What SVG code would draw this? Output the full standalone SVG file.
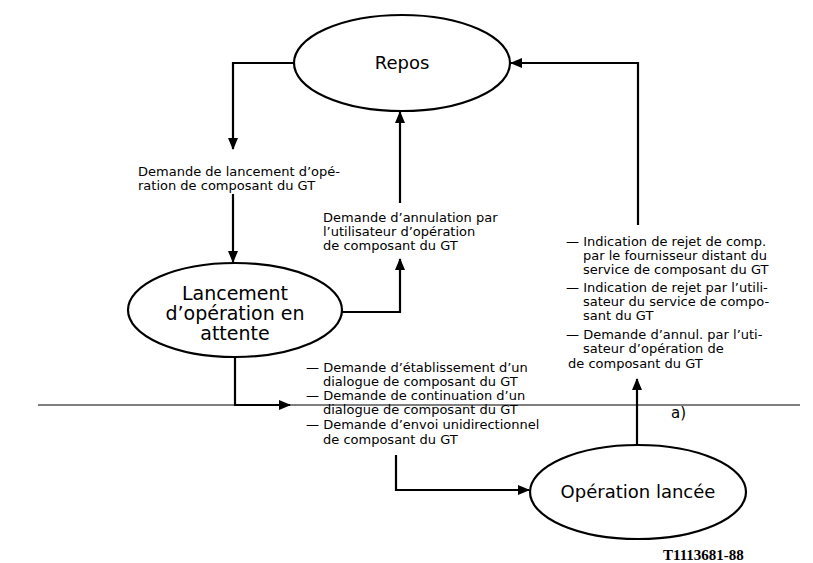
<svg xmlns="http://www.w3.org/2000/svg" width="813" height="563" viewBox="0 0 813 563">
<style>
.node{fill:#fff;stroke:#000;stroke-width:2.2}
.big{font-family:"DejaVu Sans",sans-serif;font-size:18px;fill:#000;text-anchor:middle}
.lbl{font-family:"DejaVu Sans",sans-serif;font-size:13px;fill:#000}
.con{fill:none;stroke:#000;stroke-width:2.2}
.thin{fill:none;stroke:#000;stroke-width:1.2}
.ref{font-family:"Liberation Serif",serif;font-weight:bold;font-size:15px;fill:#000}
</style>
<defs>
<marker id="ah" markerWidth="12" markerHeight="10" refX="11" refY="5" orient="auto" markerUnits="userSpaceOnUse">
<path d="M0,0 L12,5 L0,10 Z" fill="#000"/>
</marker>
</defs>
<rect width="813" height="563" fill="#fff"/>
<line class="thin" x1="38" y1="405" x2="800" y2="405"/>
<g id="connectors">
<path class="con" d="M293,63 H233 V149" marker-end="url(#ah)"/>
<path class="con" d="M233,194 V262" marker-end="url(#ah)"/>
<path class="con" d="M342,312 H400 V259" marker-end="url(#ah)"/>
<path class="con" d="M400,203 V112" marker-end="url(#ah)"/>
<path class="con" d="M235,357 V405 H290" marker-end="url(#ah)"/>
<path class="con" d="M396,455 V490 H529" marker-end="url(#ah)"/>
<path class="con" d="M637,445 V379" marker-end="url(#ah)"/>
<path class="con" d="M638,225 V63 H511" marker-end="url(#ah)"/>
</g>
<g id="repos">
<ellipse class="node" cx="402" cy="63" rx="108" ry="48"/>
<text class="big" x="402" y="69">Repos</text>
</g>
<g id="lancement">
<ellipse class="node" cx="235" cy="310" rx="107" ry="47"/>
<text class="big" style="font-size:19px" x="235" y="300">Lancement</text>
<text class="big" style="font-size:19px" x="235" y="320">d’opération en</text>
<text class="big" style="font-size:19px" x="235" y="340">attente</text>
</g>
<g id="operation">
<ellipse class="node" cx="638" cy="492" rx="108" ry="47"/>
<text class="big" x="638" y="498">Opération lancée</text>
</g>
<g id="labels">
<text class="lbl" x="138" y="176">Demande de lancement d’opé-</text>
<text class="lbl" x="138" y="190">ration de composant du GT</text>
<text class="lbl" x="323" y="222">Demande d’annulation par</text>
<text class="lbl" x="323" y="236">l’utilisateur d’opération</text>
<text class="lbl" x="323" y="250">de composant du GT</text>
<text class="lbl" x="306" y="372">— Demande d’établissement d’un</text>
<text class="lbl" x="323" y="386">dialogue de composant du GT</text>
<text class="lbl" x="306" y="400">— Demande de continuation d’un</text>
<text class="lbl" x="323" y="414">dialogue de composant du GT</text>
<text class="lbl" x="306" y="429">— Demande d’envoi unidirectionnel</text>
<text class="lbl" x="323" y="444">de composant du GT</text>
<text class="lbl" x="566" y="246">— Indication de rejet de comp.</text>
<text class="lbl" x="583" y="260">par le fournisseur distant du</text>
<text class="lbl" x="583" y="274">service de composant du GT</text>
<text class="lbl" x="566" y="292">— Indication de rejet par l’utili-</text>
<text class="lbl" x="583" y="306">sateur du service de compo-</text>
<text class="lbl" x="583" y="320">sant du GT</text>
<text class="lbl" x="566" y="339">— Demande d’annul. par l’uti-</text>
<text class="lbl" x="583" y="353">sateur d’opération de</text>
<text class="lbl" x="568" y="368">de composant du GT</text>
<text class="lbl" style="font-size:15px" x="671" y="418">a)</text>
<text class="ref" x="663" y="560">T1113681-88</text>
</g>
</svg>
